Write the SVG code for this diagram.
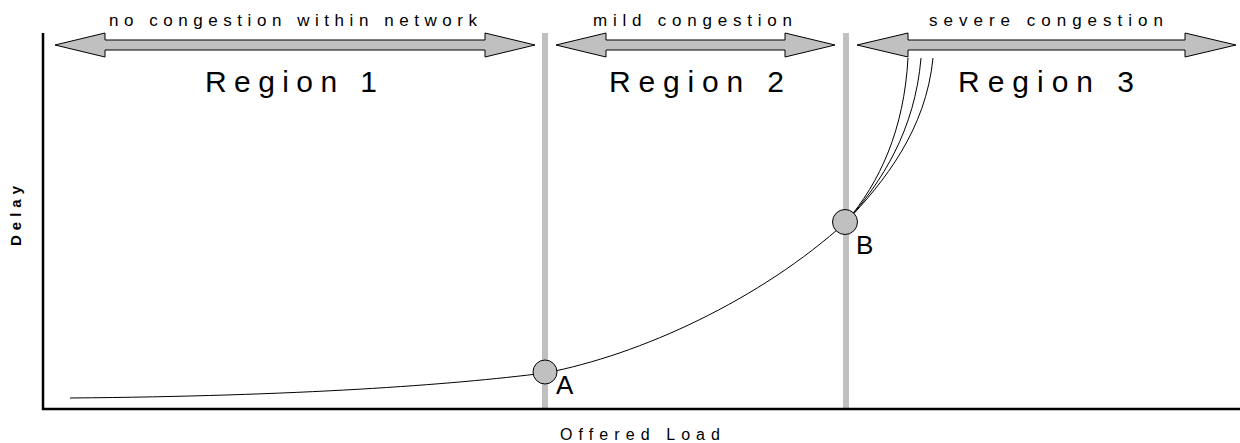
<svg xmlns="http://www.w3.org/2000/svg" width="1240" height="443" viewBox="0 0 1240 443">
<style>
text{font-family:"Liberation Sans",Arial,sans-serif;fill:#000}
.top{font-size:17px}
.reg{font-size:30px}
.lab{font-size:26px}
.arr{fill:#c0c0c0;stroke:#000;stroke-width:1}
.bar{stroke:#c0c0c0;stroke-width:6}
.ax{stroke:#000;stroke-width:2.5;fill:none}
.crv{stroke:#000;stroke-width:1;fill:none}
.pt{fill:#c0c0c0;stroke:#000;stroke-width:1}
</style>
<rect width="1240" height="443" fill="#fff"/>
<g id="bars">
<line class="bar" x1="545" y1="33" x2="545" y2="409"/>
<line class="bar" x1="846" y1="33" x2="846" y2="409"/>
</g>
<g id="axes">
<path class="ax" d="M43,33 V409 H1240"/>
</g>
<g id="arrow1"><polygon class="arr" points="55,45 105,33 105,40 485,40 485,33 535,45 485,57 485,50 105,50 105,57"/></g>
<g id="arrow2"><polygon class="arr" points="556,45 606,33 606,40 785,40 785,33 835,45 785,57 785,50 606,50 606,57"/></g>
<g id="arrow3"><polygon class="arr" points="857,45 908,33 908,40 1185,40 1185,33 1236,45 1185,57 1185,50 908,50 908,57"/></g>
<g id="labels">
<text class="top" x="109" y="26" textLength="368" lengthAdjust="spacing">no congestion within network</text>
<text class="top" x="593" y="26" textLength="199" lengthAdjust="spacing">mild congestion</text>
<text class="top" x="929" y="26" textLength="234" lengthAdjust="spacing">severe congestion</text>
<text class="reg" x="205" y="92" textLength="172" lengthAdjust="spacing">Region 1</text>
<text class="reg" x="609" y="92" textLength="175" lengthAdjust="spacing">Region 2</text>
<text class="reg" x="958" y="92" textLength="176" lengthAdjust="spacing">Region 3</text>
<text x="560" y="440" style="font-size:16px" textLength="160" lengthAdjust="spacing">Offered Load</text>
<text x="0" y="0" transform="translate(21,246) rotate(-90)" style="font-size:15px;font-weight:bold" textLength="60" lengthAdjust="spacing">Delay</text>
</g>
<g id="connectors">
<path class="crv" d="M70,398 C300,396 450,385 545,373 C640,355 760,300 846,222"/>
<path class="crv" d="M846,222 C880,182 904,130 908,58"/>
<path class="crv" d="M846,222 C882,182 915,130 921,58"/>
<path class="crv" d="M846,222 C884,182 926,130 933,58"/>
</g>
<g id="pointA">
<circle class="pt" cx="545" cy="372" r="12"/>
<text class="lab" x="556" y="394">A</text>
</g>
<g id="pointB">
<circle class="pt" cx="845" cy="222" r="12.5"/>
<text class="lab" x="856" y="254">B</text>
</g>
</svg>
